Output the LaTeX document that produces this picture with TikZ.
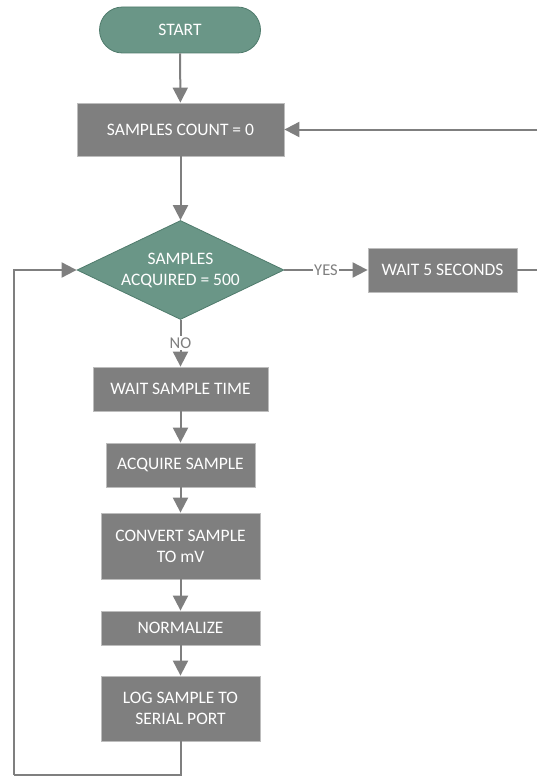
\documentclass[tikz,border=0pt]{standalone}
\usepackage{fontspec}
\setmainfont{Carlito}
\usetikzlibrary{shapes.geometric,arrows.meta}

\definecolor{flowteal}{HTML}{6A9687}
\definecolor{flowtealdark}{HTML}{4F7B6C}
\definecolor{flowgray}{HTML}{7F7F7F}
\definecolor{flowgrayedge}{HTML}{BDBDBD}

\tikzset{
  term/.style={draw=flowtealdark, fill=flowteal, text=white, line width=0.8pt,
    rounded corners=23pt, minimum width=161pt, minimum height=46pt, inner sep=0pt},
  proc/.style={draw=flowgrayedge, fill=flowgray, text=white, line width=0.8pt,
    align=center, inner sep=0pt},
  dec/.style={diamond, aspect=2.09, draw=flowtealdark, fill=flowteal, text=white, line width=0.8pt,
    align=center, inner sep=0pt, minimum width=207pt, minimum height=99pt},
  line/.style={draw=flowgray, line width=2pt},
  flow/.style={line, -{Triangle[length=15pt,width=15pt]}},
  lbl/.style={fill=white, text=flowgray, inner sep=1.5pt, font=\fontsize{16.5}{20}\selectfont}
}

\begin{document}
\begin{tikzpicture}[x=1pt,y=-1pt,font=\fontsize{17.5}{21}\selectfont]
      % Bounding box
      \path (0,0) rectangle (537,776);

      \node[term] (start) at (180,30) {START};
      \node[proc, minimum width=207pt, minimum height=53pt] (count) at (180.5,129.5) {SAMPLES COUNT = 0};
      \node[dec] (acq) at (180.5,270) {SAMPLES\\ACQUIRED = 500};
      \node[proc, minimum width=149pt, minimum height=44pt] (wait5) at (442.5,270) {WAIT 5 SECONDS};

      \node[proc, minimum width=175pt, minimum height=44pt] (waitst) at (180.5,389) {WAIT SAMPLE TIME};
      \node[proc, minimum width=149pt, minimum height=44pt] (acquire) at (180.5,465) {ACQUIRE SAMPLE};
      \node[proc, minimum width=159pt, minimum height=66pt] (convert) at (180.5,546) {CONVERT SAMPLE\\TO mV};
      \node[proc, minimum width=159pt, minimum height=34pt] (norm) at (180.5,628) {NORMALIZE};
      \node[proc, minimum width=159pt, minimum height=65pt] (log) at (180.5,708.5) {LOG SAMPLE TO\\SERIAL PORT};

      % loose ends at the right border and the loop corner
      \coordinate (backin) at (537,129.5);
      \coordinate (backout) at (537,270);
      \coordinate (loop) at (13.5,775);

      \draw[flow] (start) -- (count);
      \draw[flow] (count) -- (acq);
      \draw[flow] (backin) -- (count);
      \draw[flow] (acq) -- node[lbl] {YES} (wait5);
      \draw[line] (wait5) -- (backout);
      \draw[flow] (acq) -- node[lbl] {NO} (waitst);
      \draw[flow] (waitst) -- (acquire);
      \draw[flow] (acquire) -- (convert);
      \draw[flow] (convert) -- (norm);
      \draw[flow] (norm) -- (log);
      \draw[line] (log) |- (loop);
      \draw[flow] (loop) |- (acq);
    \end{tikzpicture}
\end{document}
